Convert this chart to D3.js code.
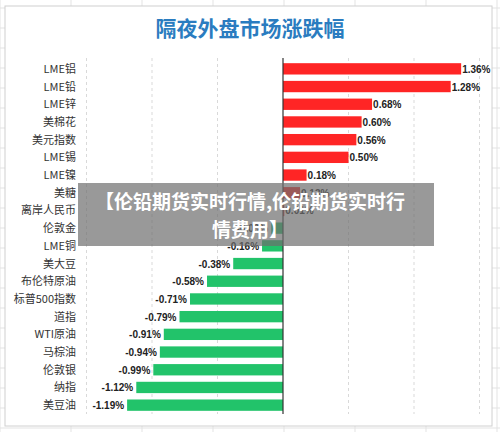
<!DOCTYPE html><html><head><meta charset="utf-8"><script src="https://cdn.jsdelivr.net/npm/d3@7"></script>
<style>body{margin:0;background:#fff}svg{display:block}</style></head><body><svg id="c" width="500" height="432"></svg>
<script>
const categories=["LME铝","LME铅","LME锌","美棉花","美元指数","LME锡","LME镍","美糖","离岸人民币","伦敦金","LME铜","美大豆","布伦特原油","标普500指数","道指","WTI原油","马棕油","伦敦银","纳指","美豆油"];
const values=[1.36,1.28,0.68,0.60,0.56,0.50,0.18,0.13,0.01,-0.09,-0.16,-0.38,-0.58,-0.71,-0.79,-0.91,-0.94,-0.99,-1.12,-1.19];
const gridTicks=[-1.5,-1,-0.5,0,0.5,1,1.5];
const svg=d3.select("#c");
const g0=svg.append("g");
for(let x=0;x<=500;x+=71)g0.append("line").attr("x1",x).attr("x2",x).attr("y1",0).attr("y2",432).attr("stroke","#e3e3e3");
for(let y=8;y<=432;y+=20)g0.append("line").attr("x1",0).attr("x2",500).attr("y1",y).attr("y2",y).attr("stroke","#e3e3e3");
svg.append("rect").attr("x",5).attr("y",6).attr("width",487).attr("height",420).attr("fill","#fff").attr("stroke","#d0d0d0");
svg.append("text").attr("x",250).attr("y",36).attr("text-anchor","middle").attr("font-family","Noto Sans CJK SC").attr("font-weight","bold").attr("font-size",21).attr("fill","#2a7cc0").text("隔夜外盘市场涨跌幅");
const x=d3.scaleLinear().domain([-1.5,1.5]).range([86.5,479.5]);
const y=d3.scaleBand().domain(categories).range([60,414]).paddingInner(0.36).paddingOuter(0.18);
svg.append("g").selectAll("line").data(gridTicks.filter(d=>d!==0)).join("line").attr("x1",d=>x(d)).attr("x2",d=>x(d)).attr("y1",58).attr("y2",414).attr("stroke","#d9d9d9").attr("stroke-dasharray","3,3");
svg.append("g").selectAll("rect").data(values).join("rect").attr("x",d=>x(Math.min(0,d))).attr("width",d=>Math.abs(x(d)-x(0))).attr("y",(d,i)=>y(categories[i])).attr("height",y.bandwidth()).attr("fill",d=>d>=0?"#ff2525":"#22c36a");
svg.append("g").selectAll("text").data(values).join("text").attr("x",d=>d>=0?x(d)+1:x(d)-3).attr("y",(d,i)=>y(categories[i])+y.bandwidth()/2+4).attr("text-anchor",d=>d>=0?"start":"end").attr("font-family","Liberation Sans, Arial").attr("font-weight","bold").attr("font-size",10).attr("fill","#222").text(d=>d.toFixed(2)+"%");
svg.append("g").selectAll("text").data(categories).join("text").attr("x",76).attr("y",d=>y(d)+y.bandwidth()/2+4).attr("text-anchor","end").attr("font-family","Noto Sans CJK SC").attr("font-size",11).attr("fill","#333").text(d=>d);
svg.append("line").attr("x1",x(0)).attr("x2",x(0)).attr("y1",58).attr("y2",414).attr("stroke","#333").attr("stroke-width",1.2);
svg.append("rect").attr("x",78).attr("y",183).attr("width",356).attr("height",63).attr("fill","rgba(110,110,110,0.7)");
const bt=svg.append("text").attr("text-anchor","middle").attr("font-family","Noto Sans CJK SC").attr("font-weight","bold").attr("font-size",19).attr("fill","#fff");
bt.append("tspan").attr("x",250).attr("y",209).text("【伦铅期货实时行情,伦铅期货实时行");
bt.append("tspan").attr("x",250).attr("y",237).text("情费用】");
</script></body></html>
